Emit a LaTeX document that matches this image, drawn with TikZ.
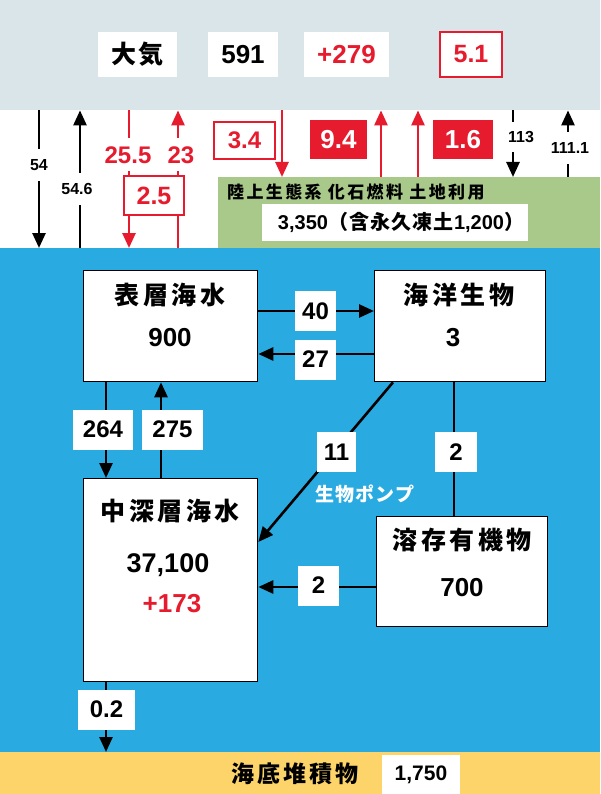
\documentclass[tikz,border=0pt]{standalone}
\usepackage{fontspec}
\setmainfont{Liberation Sans}
\newfontfamily\jp{Noto Sans CJK JP}[LetterSpace=6]
\newfontfamily\jpn{Noto Sans CJK JP}[LetterSpace=14]
\usetikzlibrary{arrows.meta}
\definecolor{atmc}{RGB}{217,229,233}
\definecolor{seac}{RGB}{41,171,226}
\definecolor{landc}{RGB}{169,201,139}
\definecolor{sedc}{RGB}{252,212,106}
\definecolor{redc}{RGB}{230,27,45}
\tikzset{
  band/.style={inner sep=0pt, anchor=north west, draw=none},
  arr/.style={line width=2.6pt, -{Triangle[length=15pt,width=13pt]}},
  conn/.style={line width=2.6pt},
  ocbox/.style={draw=black, line width=1.3pt, fill=white, inner sep=0pt, anchor=north west},
  numbox/.style={fill=white, inner sep=0pt, minimum height=40pt, font=\bfseries\fontsize{24}{24}\selectfont},
  toplab/.style={fill=white, inner sep=0pt, minimum height=45pt, font=\bfseries\fontsize{26}{26}\selectfont},
  smlab/.style={fill=white, inner sep=0pt, minimum height=32pt, font=\bfseries\fontsize{16}{16}\selectfont},
  redlab/.style={fill=white, inner sep=0pt, minimum height=33pt, text=redc, font=\bfseries\fontsize{24}{24}\selectfont},
  redbox/.style={draw=redc, line width=1.3pt, fill=white, text=redc, inner sep=0pt, font=\bfseries\fontsize{25}{25}\selectfont},
  redfill/.style={fill=redc, text=white, inner sep=0pt, minimum height=39pt, font=\bfseries\fontsize{26}{26}\selectfont},
  title/.style={font=\jpn\bfseries\fontsize{25}{25}\selectfont, inner sep=0pt},
  bignum/.style={font=\bfseries\fontsize{26}{26}\selectfont, inner sep=0pt},
}
\begin{document}
\begin{tikzpicture}[x=1pt,y=-1pt]
\useasboundingbox (0,0) rectangle (600,794);
\fill[white] (0,0) rectangle (600,794);
% bands
\node[band, fill=atmc, minimum width=600pt, minimum height=110pt] (atm) at (0,0) {};
\node[band, fill=seac, minimum width=600pt, minimum height=504pt] (sea) at (0,248) {};
\node[band, fill=landc, minimum width=382pt, minimum height=71pt] (land) at (218,177) {};
\node[band, fill=sedc, minimum width=600pt, minimum height=42pt] (sed) at (0,752) {};
% atmosphere labels
\node[toplab, minimum width=79pt, font=\jp\bfseries\fontsize{25}{25}\selectfont] (atmt) at (137.5,54.5) {大気};
\node[toplab, minimum width=70pt] (atmn) at (243,54.5) {591};
\node[toplab, minimum width=85pt, text=redc] (atmp) at (346.5,54.5) {+279};
\node[redbox, minimum width=62pt, minimum height=45pt] (b51) at (471,54.5) {5.1};
% exchange arrows atmosphere - ocean
\draw[arr] ([xshift=39pt]atm.south west) -- ([xshift=39pt]sea.north west);
\node[smlab] (l54) at (39,165) {54};
\draw[arr] ([xshift=80pt]sea.north west) -- ([xshift=80pt]atm.south west);
\node[smlab] (l546) at (77,189) {54.6};
\draw[arr, redc] ([xshift=129pt]atm.south west) -- ([xshift=129pt]sea.north west);
\node[redlab] (l255) at (128,155) {25.5};
\draw[arr, redc] ([xshift=178pt]sea.north west) -- ([xshift=178pt]atm.south west);
\node[redlab] (l23) at (181,155) {23};
\node[redbox, minimum width=60pt, minimum height=39pt] (b25) at (154,195.5) {2.5};
% land arrows
\draw[arr, redc] ([xshift=282pt]atm.south west) -- ([xshift=64pt]land.north west);
\node[redbox, minimum width=61pt, minimum height=37pt, font=\bfseries\fontsize{24}{24}\selectfont] (b34) at (244.5,140.5) {3.4};
\node[redfill, minimum width=57pt] (b94) at (338.5,139.5) {9.4};
\draw[arr, redc] ([xshift=163pt]land.north west) -- ([xshift=381pt]atm.south west);
\draw[arr, redc] ([xshift=200pt]land.north west) -- ([xshift=418pt]atm.south west);
\node[redfill, minimum width=60pt] (b16) at (463,139.5) {1.6};
\draw[arr] ([xshift=513pt]atm.south west) -- ([xshift=295pt]land.north west);
\node[smlab, minimum height=30pt] (l113) at (521,137) {113};
\draw[arr] ([xshift=350pt]land.north west) -- ([xshift=568pt]atm.south west);
\node[smlab] (l1111) at (570,148) {111.1};
% land content
\node[inner sep=0pt, font=\jpn\bfseries\fontsize{17}{17}\selectfont, anchor=west] (landt) at (227,192) {陸上生態系 化石燃料 土地利用};
\node[fill=white, inner sep=0pt, minimum width=266pt, minimum height=37pt] (landn) at (395,222.5) {};
\node[inner sep=0pt, font=\bfseries\fontsize{20}{20}\selectfont] (landnt) at (401,222.5)
  {3,350{\jp\bfseries （含永久凍土}1,200{\jp\bfseries ）}};
% ocean boxes
\node[ocbox, minimum width=174pt, minimum height=111pt] (sw) at (83,270) {};
\node[title] (swt) at (170,295) {表層海水};
\node[bignum] (swn) at (170,338) {900};
\node[ocbox, minimum width=171pt, minimum height=111pt] (mb) at (374,270) {};
\node[title] (mbt) at (459,295) {海洋生物};
\node[bignum] (mbn) at (453,338) {3};
\node[ocbox, minimum width=174pt, minimum height=203pt] (dw) at (83,478) {};
\node[title] (dwt) at (170,511) {中深層海水};
\node[bignum, font=\bfseries\fontsize{27}{27}\selectfont] (dwn) at (168,565) {37,100};
\node[bignum, text=redc] (dwp) at (172,604) {+173};
\node[ocbox, minimum width=171pt, minimum height=110pt] (doc) at (376,516) {};
\node[title] (doct) at (462,540) {溶存有機物};
\node[bignum] (docn) at (462,588) {700};
% ocean connectors
\draw[arr] ([yshift=-41pt]sw.north east) -- ([yshift=-41pt]mb.north west);
\node[numbox, minimum width=41pt] (l40) at (315.5,311) {40};
\draw[arr] ([yshift=-84pt]mb.north west) -- ([yshift=-84pt]sw.north east);
\node[numbox, minimum width=41pt] (l27) at (315.5,359.5) {27};
\draw[arr] ([xshift=23pt]sw.south west) -- ([xshift=23pt]dw.north west);
\node[numbox, minimum width=60pt] (l264) at (103,429.5) {264};
\draw[arr] ([xshift=78pt]dw.north west) -- ([xshift=78pt]sw.south west);
\node[numbox, minimum width=61pt] (l275) at (172.5,429.5) {275};
\draw[arr] ([xshift=19pt]mb.south west) -- ([yshift=-64pt]dw.north east);
\node[numbox, minimum width=39pt] (l11) at (336.5,452) {11};
\draw[conn] ([xshift=80pt]mb.south west) -- ([xshift=80pt]mb.south west |- doc.north);
\node[numbox, minimum width=42pt] (l2a) at (456,452) {2};
\draw[arr] ([yshift=-71pt]doc.north west) -- ([yshift=-71pt]doc.north west -| dw.east);
\node[numbox, minimum width=41pt] (l2b) at (318.5,585.5) {2};
\node[inner sep=0pt, text=white, font=\jp\bfseries\fontsize{19}{19}\selectfont] (pump) at (365,494) {生物ポンプ};
\draw[arr] ([xshift=23pt]dw.south west) -- ([xshift=23pt]dw.south west |- sed.north);
\node[numbox, minimum width=57pt] (l02) at (106.5,709.5) {0.2};
% sediment
\node[inner sep=0pt, font=\jpn\bfseries\fontsize{23}{23}\selectfont] (sedt) at (295,774) {海底堆積物};
\node[fill=white, inner sep=0pt, minimum width=78pt, minimum height=39pt, font=\bfseries\fontsize{21}{21}\selectfont] (sedn) at (421,774.5) {1,750};
\end{tikzpicture}
\end{document}
